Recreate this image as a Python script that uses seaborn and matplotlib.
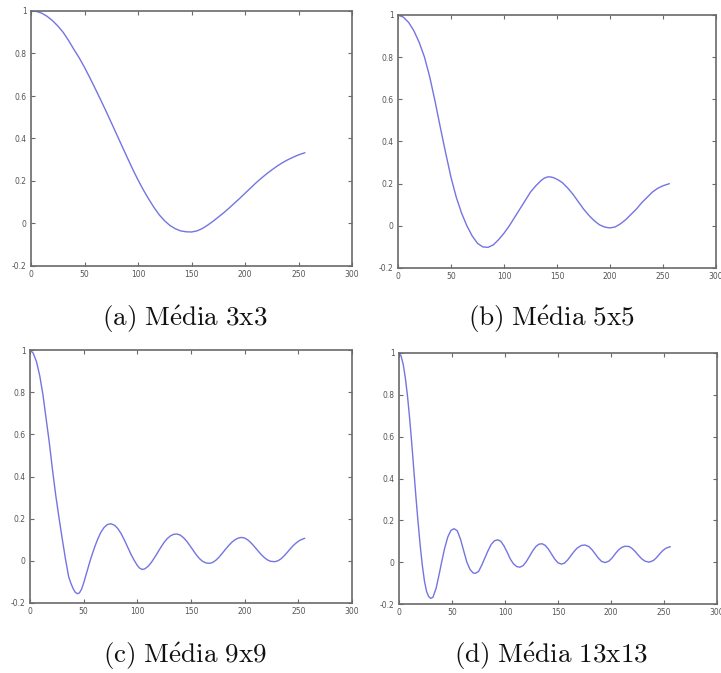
import matplotlib
matplotlib.use("Agg")
import matplotlib.pyplot as plt
import seaborn as sns
import pandas as pd

# ---------------- data ----------------
x_a = [0, 5, 10, 15, 20, 25, 30, 35, 40, 45, 50, 55, 60, 65, 70, 75, 80, 85, 90,
       95, 100, 105, 110, 115, 120, 125, 130, 135, 140, 145, 150, 155, 160, 165,
       170, 175, 180, 185, 190, 195, 200, 205, 210, 215, 220, 225, 230, 235, 240,
       245, 250, 256]
y_a = [1.0, 0.998, 0.99, 0.975, 0.955, 0.93, 0.90, 0.862, 0.82, 0.78, 0.735, 0.686,
       0.635, 0.583, 0.53, 0.475, 0.42, 0.365, 0.31, 0.256, 0.205, 0.158, 0.115,
       0.075, 0.04, 0.012, -0.01, -0.025, -0.035, -0.039, -0.04, -0.035, -0.024,
       -0.008, 0.01, 0.03, 0.05, 0.072, 0.095, 0.118, 0.142, 0.166, 0.19, 0.212,
       0.233, 0.252, 0.27, 0.286, 0.30, 0.312, 0.323, 0.333]

x_b = [0, 5, 10, 15, 20, 25, 30, 35, 40, 45, 50, 55, 60, 65, 70, 75, 80, 85, 90,
       95, 100, 105, 110, 115, 120, 125, 130, 135, 138, 141, 144, 147, 151, 155,
       160, 165, 170, 175, 180, 185, 190, 195, 200, 205, 210, 215, 220, 225, 230,
       235, 240, 245, 250, 256]
y_b = [1.0, 0.99, 0.965, 0.925, 0.87, 0.80, 0.705, 0.59, 0.465, 0.345, 0.23, 0.135,
       0.06, 0.0, -0.048, -0.083, -0.1, -0.102, -0.09, -0.065, -0.035, 0.0, 0.04,
       0.08, 0.12, 0.16, 0.19, 0.215, 0.226, 0.232, 0.232, 0.228, 0.218, 0.205,
       0.18, 0.15, 0.115, 0.08, 0.05, 0.025, 0.005, -0.006, -0.01, -0.005, 0.01,
       0.03, 0.055, 0.08, 0.11, 0.135, 0.16, 0.178, 0.19, 0.2]

x_c = [0, 3, 6, 9, 12, 15, 18, 21, 24, 27, 30, 33, 36, 38, 40, 42, 44, 46, 48, 50,
       52, 54, 56, 58, 60, 63, 66, 69, 72, 75.5, 79, 82, 85, 88, 91, 94, 97, 100,
       102, 104.5, 107, 110, 113, 116, 119, 122, 125, 128, 131, 134, 137, 140, 143,
       146, 149, 152, 155, 158, 161, 164, 167, 170, 173, 176, 179, 182, 185, 188,
       191, 194, 197, 200, 203, 206, 209, 212, 215, 218, 221, 224, 228, 231, 234,
       237, 240, 243, 246, 249, 252, 256]
y_c = [1.0, 0.985, 0.945, 0.88, 0.79, 0.675, 0.56, 0.43, 0.31, 0.205, 0.105, 0.01,
       -0.075, -0.105, -0.13, -0.148, -0.156, -0.152, -0.135, -0.105, -0.07,
       -0.035, 0.0, 0.032, 0.062, 0.102, 0.135, 0.158, 0.172, 0.176, 0.168, 0.152,
       0.128, 0.098, 0.065, 0.032, 0.003, -0.022, -0.034, -0.041, -0.038, -0.026,
       -0.008, 0.015, 0.04, 0.065, 0.088, 0.106, 0.119, 0.126, 0.127, 0.122, 0.11,
       0.093, 0.072, 0.05, 0.028, 0.01, -0.003, -0.01, -0.012, -0.008, 0.002,
       0.017, 0.035, 0.054, 0.072, 0.088, 0.1, 0.108, 0.111, 0.108, 0.099, 0.085,
       0.068, 0.05, 0.032, 0.017, 0.005, -0.002, -0.004, 0.0, 0.01, 0.025, 0.042,
       0.06, 0.076, 0.089, 0.099, 0.107]

x_d = [0, 2, 4, 6, 8, 10, 12, 14, 16, 18, 20, 22, 24, 26, 28, 30, 32, 35, 38, 40,
       43, 46, 49, 52, 55, 58, 61, 64, 67, 70, 72, 75, 78, 81, 84, 87, 90, 93, 96,
       99, 102, 105, 108, 111, 114, 117, 120, 123, 126, 129, 132, 135, 138, 141,
       144, 147, 150, 153, 156, 159, 162, 165, 168, 172, 175.5, 179, 182, 185, 188,
       191, 194.5, 198, 201, 204, 207, 210, 213, 217, 220, 223, 226, 229, 232, 236,
       240, 243, 246, 249, 252, 256]
y_d = [1.0, 0.985, 0.945, 0.88, 0.795, 0.69, 0.57, 0.44, 0.31, 0.19, 0.08, -0.015,
       -0.09, -0.14, -0.165, -0.173, -0.168, -0.125, -0.055, -0.005, 0.065, 0.12,
       0.152, 0.16, 0.15, 0.11, 0.055, 0.0, -0.035, -0.052, -0.053, -0.045, -0.015,
       0.02, 0.055, 0.085, 0.102, 0.107, 0.1, 0.078, 0.048, 0.015, -0.008, -0.021,
       -0.024, -0.017, 0.002, 0.027, 0.053, 0.074, 0.086, 0.088, 0.08, 0.062, 0.038,
       0.014, -0.003, -0.009, -0.005, 0.01, 0.03, 0.05, 0.067, 0.08, 0.082, 0.075,
       0.06, 0.04, 0.02, 0.004, -0.002, 0.005, 0.02, 0.04, 0.058, 0.07, 0.076,
       0.075, 0.065, 0.05, 0.032, 0.016, 0.005, 0.0, 0.008, 0.022, 0.04, 0.056,
       0.067, 0.074]

captions = [r"$\mathrm{(a)\ M\acute{e}dia\ 3x3}$", r"$\mathrm{(b)\ M\acute{e}dia\ 5x5}$",
            r"$\mathrm{(c)\ M\acute{e}dia\ 9x9}$", r"$\mathrm{(d)\ M\acute{e}dia\ 13x13}$"]
xticks = [0, 50, 100, 150, 200, 250, 300]
xticklabels = ["0", "50", "100", "150", "200", "250", "300"]
yticks = [-0.2, 0, 0.2, 0.4, 0.6, 0.8, 1.0]
yticklabels = ["-0.2", "0", "0.2", "0.4", "0.6", "0.8", "1"]

# ---------------- layout ----------------
sns.set_theme(style="white")
plt.rcParams["mathtext.fontset"] = "cm"
plt.rcParams["font.family"] = ["DejaVu Sans"]

W, H = 721, 673
fig = plt.figure(figsize=(W / 100, H / 100), dpi=100)
fig.patch.set_facecolor("white")

# pixel boxes: left, right, top, bottom
boxes = [(31, 352, 11, 266), (398, 716, 15, 268), (30, 352, 350, 603), (399, 717, 353, 604)]
caption_pos = [(185, 319), (551, 319), (185, 656), (551, 656)]
series = [(x_a, y_a), (x_b, y_b), (x_c, y_c), (x_d, y_d)]

line_color = "#7474e2"
spine_color = "#6a6a6a"
tick_color = "#555555"

for (l, r, t, b), (xs, ys), cap, (cx, cy) in zip(boxes, series, captions, caption_pos):
    ax = fig.add_axes([l / W, 1 - b / H, (r - l) / W, (b - t) / H])
    df = pd.DataFrame({"x": xs, "y": ys})
    sns.lineplot(data=df, x="x", y="y", ax=ax, color=line_color, linewidth=1.0,
                 estimator=None, sort=False)
    ax.set_xlim(0, 300)
    ax.set_ylim(-0.2, 1.0)
    ax.set_xticks(xticks)
    ax.set_xticklabels(xticklabels)
    ax.set_yticks(yticks)
    ax.set_yticklabels(yticklabels)
    ax.set_xlabel("")
    ax.set_ylabel("")
    ax.tick_params(axis="both", which="major", direction="in", length=3, width=0.8,
                   color=spine_color, labelsize=5.5, labelcolor=tick_color,
                   top=True, right=True, bottom=True, left=True, pad=3)
    for sp in ax.spines.values():
        sp.set_color(spine_color)
        sp.set_linewidth(1.2)
        sp.set_visible(True)
    ax.set_facecolor("white")
    fig.text(cx / W, 1 - cy / H, cap, ha="center", va="center", fontsize=19.5,
             color="#111111")

fig.savefig("out.png", dpi=100, facecolor="white")
